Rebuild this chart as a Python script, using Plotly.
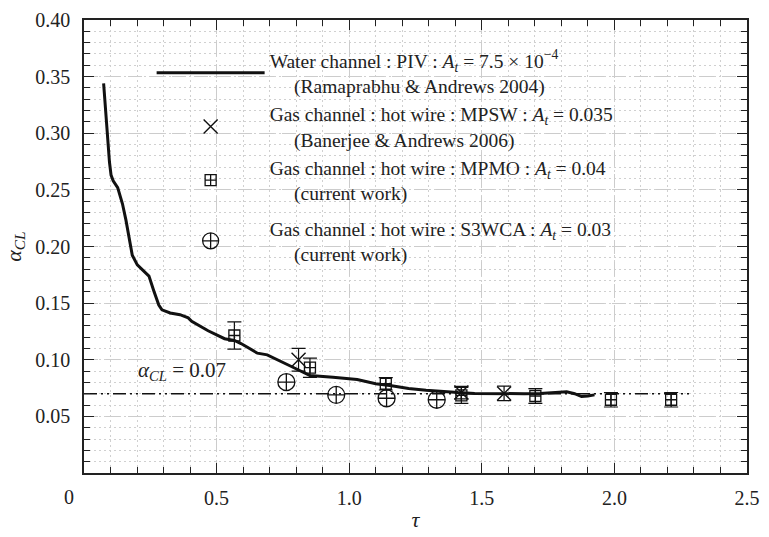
import plotly.graph_objects as go

# ---------------- data ----------------
# Water channel PIV (Ramaprabhu & Andrews 2004)
piv_tau = [0.074, 0.078, 0.083, 0.089, 0.096, 0.102, 0.110, 0.127, 0.145, 0.158, 0.170,
           0.182, 0.201, 0.226, 0.245, 0.263, 0.282, 0.294, 0.325, 0.362, 0.393,
           0.406, 0.468, 0.530, 0.567, 0.592, 0.654, 0.691, 0.740, 0.778, 0.852,
           0.900, 0.939, 1.030, 1.100, 1.160, 1.224, 1.290, 1.349, 1.410, 1.473,
           1.540, 1.597, 1.660, 1.720, 1.780, 1.820, 1.850, 1.876, 1.900, 1.925]
piv_alpha = [0.344, 0.330, 0.314, 0.2945, 0.2746, 0.263, 0.258, 0.252, 0.2377, 0.2235, 0.2065,
             0.1923, 0.1838, 0.1781, 0.1739, 0.161, 0.1483, 0.1441, 0.1413, 0.1398, 0.137,
             0.134, 0.1256, 0.1186, 0.117, 0.1143, 0.1058, 0.1043, 0.0990, 0.0945, 0.0860,
             0.0855, 0.0845, 0.0825, 0.0788, 0.0770, 0.0746, 0.0730, 0.0717, 0.0710, 0.0703,
             0.0700, 0.0703, 0.0700, 0.0703, 0.0710, 0.0717, 0.0700, 0.0675, 0.0680, 0.0690]

# Gas channel MPSW (Banerjee & Andrews 2006)
mpsw_tau = [0.809, 1.423, 1.584]
mpsw_alpha = [0.100, 0.0710, 0.0703]
mpsw_err = [0.010, 0.0055, 0.0064]

# Gas channel MPMO (current work)
mpmo_tau = [0.567, 0.852, 1.138, 1.423, 1.702, 1.987, 2.214]
mpmo_alpha = [0.1214, 0.0930, 0.0788, 0.0685, 0.0680, 0.0647, 0.0647]
mpmo_err = [0.0120, 0.0085, 0.0055, 0.0070, 0.0065, 0.0064, 0.0064]

# Gas channel S3WCA (current work)
s3_tau = [0.763, 0.951, 1.141, 1.330]
s3_alpha = [0.0803, 0.0690, 0.0660, 0.0647]

# reference level
alpha_cl = 0.07
ref_tau = [0.0, 2.285]

x_ticks = [0.5, 1.0, 1.5, 2.0, 2.5]
x_ticktext = ["0.5", "1.0", "1.5", "2.0", "2.5"]
y_ticks = [0.05, 0.10, 0.15, 0.20, 0.25, 0.30, 0.35, 0.40]
y_ticktext = ["0.05", "0.10", "0.15", "0.20", "0.25", "0.30", "0.35", "0.40"]

SERIF = "Liberation Serif"
NB = "\u00a0"

leg_piv = ("Water channel : PIV : <i>A</i><sub><i>t</i></sub> = 7.5 × 10<sup>−4</sup><br>"
           + NB * 5 + "(Ramaprabhu & Andrews 2004)")
leg_mpsw = ("Gas channel : hot wire : MPSW : <i>A</i><sub><i>t</i></sub> = 0.035<br>"
            + NB * 5 + "(Banerjee & Andrews 2006)")
leg_mpmo = ("Gas channel : hot wire : MPMO : <i>A</i><sub><i>t</i></sub> = 0.04<br>"
            + NB * 5 + "(current work)")
leg_s3 = ("Gas channel : hot wire : S3WCA : <i>A</i><sub><i>t</i></sub> = 0.03<br>"
          + NB * 5 + "(current work)")

fig = go.Figure()

fig.add_trace(go.Scatter(
    x=ref_tau, y=[alpha_cl] * len(ref_tau), mode="lines",
    line=dict(color="#111111", width=1.3, dash="13px,4px,2px,4px,2px,4px"),
    showlegend=False, hoverinfo="skip"))

fig.add_trace(go.Scatter(
    x=piv_tau, y=piv_alpha, mode="lines", name=leg_piv, legendgroup="a",
    line=dict(color="#111111", width=3)))

fig.add_trace(go.Scatter(
    x=mpsw_tau, y=mpsw_alpha, mode="markers", name=leg_mpsw, legendgroup="a",
    marker=dict(symbol="x-thin-open", size=14, color="#111111", line=dict(width=1.4, color="#111111")),
    error_y=dict(type="data", array=mpsw_err, visible=True, color="#111111", thickness=1.2, width=7)))

fig.add_trace(go.Scatter(
    x=mpmo_tau, y=mpmo_alpha, mode="markers", name=leg_mpmo, legendgroup="a",
    marker=dict(symbol="square-cross-open", size=11, color="#111111", line=dict(width=1.3, color="#111111")),
    error_y=dict(type="data", array=mpmo_err, visible=True, color="#111111", thickness=1.2, width=7)))

fig.add_trace(go.Scatter(
    x=s3_tau, y=s3_alpha, mode="markers", name=leg_s3, legendgroup="b",
    marker=dict(symbol="circle-cross-open", size=17, color="#111111", line=dict(width=1.3, color="#111111"))))

axis_common = dict(
    ticks="inside", ticklen=10, tickwidth=1.2, tickcolor="#222222",
    showline=True, linecolor="#222222", linewidth=1.5, mirror="allticks",
    showgrid=True, gridcolor="#cccccc", gridwidth=1, griddash="14px,8px",
    zeroline=False, tickfont=dict(family=SERIF, size=20, color="#222222"),
)

fig.update_xaxes(
    range=[0, 2.5], tickvals=x_ticks, ticktext=x_ticktext, ticklabelstandoff=6,
    minor=dict(tick0=0, dtick=0.1, ticks="inside", ticklen=6, tickcolor="#222222",
               showgrid=True, gridcolor="#d0d0d0", griddash="2px,3px", gridwidth=1),
    title=dict(text="<i>τ</i>", font=dict(family=SERIF, size=22, color="#222222"), standoff=4),
    **axis_common)

fig.update_yaxes(
    range=[0, 0.4], tickvals=y_ticks, ticktext=y_ticktext, ticklabelstandoff=8,
    minor=dict(tick0=0, dtick=0.01, ticks="inside", ticklen=6, tickcolor="#222222",
               showgrid=True, gridcolor="#d0d0d0", griddash="2px,3px", gridwidth=1),
    title=dict(text="<i>α</i><sub><i>CL</i></sub>", font=dict(family=SERIF, size=22, color="#222222"), standoff=8),
    **axis_common)

fig.add_annotation(x=0, y=0, xref="x", yref="y", text="0", showarrow=False,
                   xshift=-15, yshift=-24, font=dict(family=SERIF, size=20, color="#222222"))
fig.add_annotation(x=0.196, y=0.0905, xref="x", yref="y", xanchor="left", yanchor="middle",
                   text="<i>α</i><sub><i>CL</i></sub> = 0.07", showarrow=False,
                   font=dict(family=SERIF, size=21, color="#222222"))

fig.update_layout(
    width=769, height=537,
    margin=dict(l=84, r=13, t=9, b=58),
    paper_bgcolor="white", plot_bgcolor="white",
    font=dict(family=SERIF, color="#222222"),
    legend=dict(x=0.102, y=0.954, xanchor="left", yanchor="top",
                bgcolor="rgba(0,0,0,0)", font=dict(family=SERIF, size=19.5, color="#222222"),
                itemwidth=108, valign="middle", tracegroupgap=7, traceorder="grouped"),
)

fig.write_html("out.html")
